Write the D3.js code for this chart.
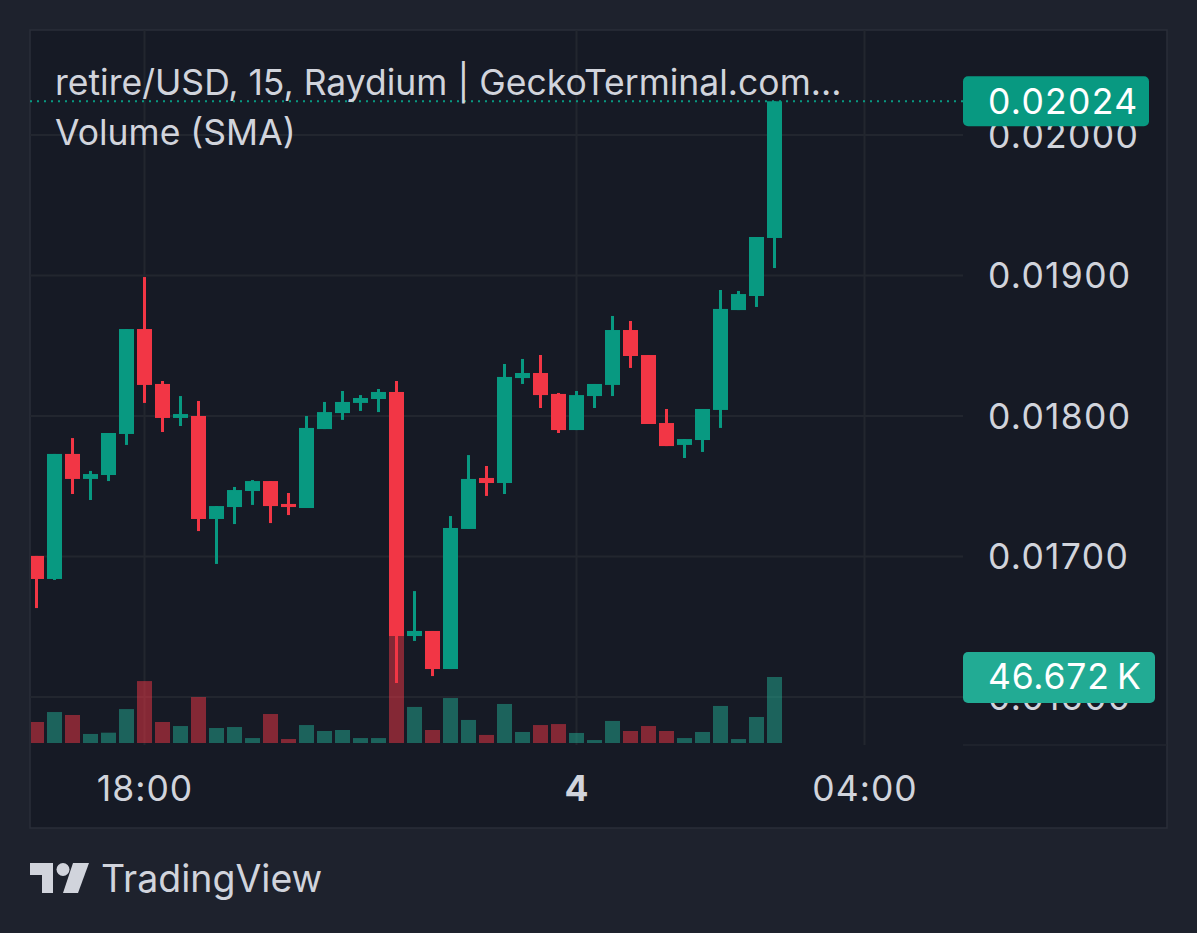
<!DOCTYPE html>
<html>
<head>
<meta charset="utf-8">
<script src="https://cdn.jsdelivr.net/npm/d3@7"></script>
<style>
  html, body { margin: 0; padding: 0; background: #1e222d; }
  svg { display: block; font-family: Inter, "Noto Sans", sans-serif; }
</style>
</head>
<body>
<svg id="chart" width="1197" height="933"></svg>
<script>
// 15 minute candles, first one at 16:30
const startTime = new Date(2024, 5, 3, 16, 30);
const stepMinutes = 15;

const opens  = [0.017004, 0.016840, 0.017730, 0.017552, 0.017580, 0.017872, 0.018619, 0.018228, 0.017986, 0.018000,
                0.017267, 0.017352, 0.017466, 0.017537, 0.017374, 0.017345, 0.017907, 0.018021, 0.018093, 0.018121,
                0.018171, 0.016434, 0.016470, 0.016199, 0.017196, 0.017559, 0.017523, 0.018270, 0.018306, 0.018157,
                0.017900, 0.018142, 0.018221, 0.018612, 0.018434, 0.017950, 0.017794, 0.017829, 0.018043, 0.018754,
                0.018854, 0.019267];
const closes = [0.016840, 0.017730, 0.017552, 0.017587, 0.017879, 0.018619, 0.018221, 0.017986, 0.018014, 0.017267,
                0.017359, 0.017473, 0.017537, 0.017359, 0.017352, 0.017915, 0.018028, 0.018100, 0.018128, 0.018171,
                0.016434, 0.016470, 0.016199, 0.017203, 0.017552, 0.017523, 0.018278, 0.018306, 0.018149, 0.017900,
                0.018149, 0.018228, 0.018612, 0.018427, 0.017943, 0.017786, 0.017836, 0.018050, 0.018762, 0.018868,
                0.019274, 0.020240];
const highs  = [0.017004, 0.017730, 0.017843, 0.017609, 0.017879, 0.018619, 0.018989, 0.018249, 0.018142, 0.018107,
                0.017359, 0.017495, 0.017544, 0.017537, 0.017452, 0.018000, 0.018100, 0.018178, 0.018149, 0.018192,
                0.018249, 0.016754, 0.016470, 0.017288, 0.017722, 0.017644, 0.018370, 0.018406, 0.018434, 0.018164,
                0.018178, 0.018228, 0.018712, 0.018676, 0.018434, 0.018050, 0.017836, 0.018050, 0.018897, 0.018890,
                0.019274, 0.020240];
const lows   = [0.016633, 0.016833, 0.017445, 0.017402, 0.017537, 0.017794, 0.018093, 0.017886, 0.017929, 0.017181,
                0.016947, 0.017231, 0.017367, 0.017238, 0.017295, 0.017345, 0.017907, 0.017972, 0.018036, 0.018028,
                0.016100, 0.016399, 0.016149, 0.016199, 0.017196, 0.017431, 0.017445, 0.018228, 0.018057, 0.017879,
                0.017900, 0.018057, 0.018142, 0.018342, 0.017943, 0.017786, 0.017701, 0.017744, 0.017915, 0.018754,
                0.018776, 0.019053];
// volume in thousands
const volumes = [14.85, 21.9, 19.8, 6.4, 7.3, 24.0, 43.8, 14.85, 12.0, 32.5,
                 10.6, 11.3, 3.5, 20.5, 2.8, 12.7, 8.5, 9.2, 3.5, 3.5,
                 98.0, 25.5, 9.2, 31.8, 16.3, 5.7, 27.6, 7.8, 12.7, 13.4,
                 7.1, 2.1, 15.6, 8.5, 12.0, 8.5, 3.5, 7.8, 26.2, 2.8,
                 18.4, 46.672];

const priceTicks = [0.016, 0.017, 0.018, 0.019, 0.020];
const timeTicks = [new Date(2024, 5, 3, 18, 0), new Date(2024, 5, 4, 0, 0), new Date(2024, 5, 4, 4, 0)];
const lastPrice = 0.02024;
const lastVolumeLabel = "46.672\u2009K";
const titleText = "retire/USD, 15, Raydium | GeckoTerminal.com...";
const subTitle = "Volume (SMA)";

const UP = "#089981", DOWN = "#f23645";
const TEXT = "#d1d4dc", GRID = "#22262f";
const FS = 35.5;

const candles = opens.map((o, i) => ({
  t: new Date(startTime.getTime() + i * stepMinutes * 60000),
  o: o, c: closes[i], h: highs[i], l: lows[i], v: volumes[i]
}));

const svg = d3.select("#chart");
const padL = 30, padT = 30, padR = 1167, padB = 828, plotRight = 963, plotBottom = 745;

svg.append("rect").attr("width", 1197).attr("height", 933).attr("fill", "#1e222d");
svg.append("rect").attr("x", padL).attr("y", padT).attr("width", padR - padL).attr("height", padB - padT)
  .attr("fill", "#161a25").attr("stroke", "#2a2e39").attr("stroke-width", 1.5);

const x = d3.scaleTime()
  .domain([startTime, timeTicks[2]])
  .range([36.5, 864.5]);
const y = d3.scaleLinear().domain([0.016, 0.020]).range([697, 135]);
const yVol = d3.scaleLinear().domain([0, 46.672]).range([743, 677]);

svg.append("clipPath").attr("id", "plot").append("rect")
  .attr("x", padL + 1).attr("y", padT + 1).attr("width", plotRight - padL - 1).attr("height", plotBottom - padT - 1);

// grid
const grid = svg.append("g");
grid.selectAll(".hg").data(priceTicks).join("line")
  .attr("x1", padL).attr("x2", plotRight)
  .attr("y1", d => y(d)).attr("y2", d => y(d))
  .attr("stroke", GRID).attr("stroke-width", 2);
grid.selectAll(".vg").data(timeTicks).join("line")
  .attr("x1", d => x(d)).attr("x2", d => x(d))
  .attr("y1", padT).attr("y2", plotBottom)
  .attr("stroke", GRID).attr("stroke-width", 2);
svg.append("line").attr("x1", plotRight).attr("x2", padR).attr("y1", plotBottom).attr("y2", plotBottom)
  .attr("stroke", GRID).attr("stroke-width", 1.5);

const plot = svg.append("g").attr("clip-path", "url(#plot)");
const bw = 15;

// volume bars
plot.selectAll(".vol").data(candles).join("rect")
  .attr("x", d => x(d.t) - bw / 2).attr("width", bw)
  .attr("y", d => yVol(d.v)).attr("height", d => yVol(0) - yVol(d.v))
  .attr("fill", d => d.c >= d.o ? "rgba(34,171,148,0.5)" : "rgba(242,54,69,0.5)");

// wicks and bodies
plot.selectAll(".wick").data(candles).join("line")
  .attr("x1", d => x(d.t)).attr("x2", d => x(d.t))
  .attr("y1", d => y(d.h)).attr("y2", d => y(d.l))
  .attr("stroke", d => d.c >= d.o ? UP : DOWN).attr("stroke-width", 3);
plot.selectAll(".body").data(candles).join("rect")
  .attr("x", d => x(d.t) - bw / 2).attr("width", bw)
  .attr("y", d => y(Math.max(d.o, d.c)))
  .attr("height", d => Math.max(3, Math.abs(y(d.o) - y(d.c))))
  .attr("fill", d => d.c >= d.o ? UP : DOWN);

// last price dotted line
svg.append("line").attr("x1", padL).attr("x2", plotRight)
  .attr("y1", y(lastPrice)).attr("y2", y(lastPrice))
  .attr("stroke", UP).attr("stroke-width", 2).attr("stroke-dasharray", "2 5");

// right price axis
const yAxis = d3.axisRight(y).tickValues(priceTicks).tickFormat(d3.format(".5f")).tickSize(0).tickPadding(0);
const ya = svg.append("g").attr("transform", `translate(988,0)`).call(yAxis);
ya.select(".domain").remove();
ya.selectAll("text").attr("fill", TEXT).attr("font-size", FS).attr("font-family", "Inter, sans-serif")
  .attr("letter-spacing", 1.3).attr("dy", "0.35em").attr("x", 0);

// time axis
const fmtTime = d => d.getHours() === 0 && d.getMinutes() === 0 ? String(d.getDate()) : d3.timeFormat("%H:%M")(d);
const xAxis = d3.axisBottom(x).tickValues(timeTicks).tickFormat(fmtTime).tickSize(0).tickPadding(0);
const xa = svg.append("g").attr("transform", `translate(0,789)`).call(xAxis);
xa.select(".domain").remove();
xa.selectAll("text").attr("fill", TEXT).attr("font-size", FS).attr("font-family", "Inter, sans-serif")
  .attr("letter-spacing", 1).attr("dy", "0.35em").attr("y", 0)
  .attr("font-weight", d => d.getHours() === 0 ? 700 : 400);

// price label
svg.append("rect").attr("x", plotRight).attr("y", y(lastPrice) - 25).attr("width", 186).attr("height", 50)
  .attr("rx", 5).attr("fill", UP);
svg.append("text").attr("x", 988).attr("y", y(lastPrice)).attr("dy", "0.35em").attr("letter-spacing", 1.3)
  .attr("fill", "#ffffff").attr("font-size", FS).text(d3.format(".5f")(lastPrice));

// volume label
const lastVol = volumes[volumes.length - 1];
svg.append("rect").attr("x", plotRight).attr("y", yVol(lastVol) - 25).attr("width", 192).attr("height", 51)
  .attr("rx", 5).attr("fill", "#22ab94");
svg.append("text").attr("x", 988).attr("y", yVol(lastVol)).attr("dy", "0.35em").attr("letter-spacing", 0.8)
  .attr("fill", "#ffffff").attr("font-size", FS).text(lastVolumeLabel);

// legend texts
svg.append("text").attr("x", 55).attr("y", 95).attr("fill", TEXT).attr("font-size", FS).text(titleText);
svg.append("text").attr("x", 55).attr("y", 145).attr("fill", TEXT).attr("font-size", FS).text(subTitle);

// TradingView footer
const logo = svg.append("g").attr("fill", TEXT);
logo.append("path").attr("d", "M30,863 H53 V893 H42 V875 H30 Z");
logo.append("circle").attr("cx", 63).attr("cy", 869.5).attr("r", 6.5);
logo.append("path").attr("d", "M73,863 H89 L78,893 H63 Z");
svg.append("text").attr("x", 101).attr("y", 892).attr("fill", TEXT).attr("font-size", 37.5).text("TradingView");
</script>
</body>
</html>
